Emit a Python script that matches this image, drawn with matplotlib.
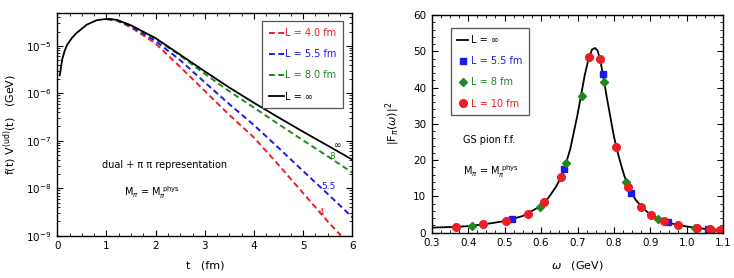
import numpy as np
import matplotlib
matplotlib.use("Agg")
import matplotlib.pyplot as plt
from matplotlib.ticker import MultipleLocator, LogLocator, NullFormatter

plt.rcParams['font.family'] = ['DejaVu Sans']
plt.rcParams['mathtext.fontset'] = 'dejavusans'

# ---------------- left panel data ----------------
t_inf = [0.05, 0.1, 0.15, 0.2, 0.3, 0.4, 0.6, 0.8, 1.0, 1.2, 1.5, 2.0, 2.5, 3.0, 3.5, 4.0, 4.5, 5.0, 5.5, 6.0]
v_inf = [2.4e-6, 5.2e-6, 7.9e-6, 1.05e-5, 1.48e-5, 1.9e-5, 2.8e-5, 3.47e-5, 3.7e-5, 3.55e-5, 2.7e-5,
         1.45e-5, 6.5e-6, 2.9e-6, 1.32e-6, 6.3e-7, 3.1e-7, 1.55e-7, 7.9e-8, 4.0e-8]

t_L8 = [1.0, 1.2, 1.5, 2.0, 2.5, 3.0, 3.5, 4.0, 4.5, 5.0, 5.5, 6.0]
v_L8 = [3.7e-5, 3.55e-5, 2.7e-5, 1.41e-5, 6.2e-6, 2.57e-6, 1.1e-6, 5.0e-7, 2.24e-7, 1.02e-7, 4.7e-8, 2.14e-8]

t_L55 = [1.0, 1.2, 1.5, 2.0, 2.5, 3.0, 3.5, 4.0, 4.5, 5.0, 5.5, 6.0]
v_L55 = [3.7e-5, 3.5e-5, 2.57e-5, 1.26e-5, 5.0e-6, 1.7e-6, 5.9e-7, 2.14e-7, 7.1e-8, 2.3e-8, 7.6e-9, 2.45e-9]

t_L4 = [1.0, 1.2, 1.5, 2.0, 2.5, 3.0, 3.5, 4.0, 4.5, 5.0, 5.5, 5.77]
v_L4 = [3.65e-5, 3.45e-5, 2.45e-5, 1.12e-5, 3.6e-6, 1.12e-6, 3.5e-7, 1.17e-7, 3.1e-8, 7.9e-9, 2.0e-9, 1.0e-9]

left_labels = ["L = 4.0 fm", "L = 5.5 fm", "L = 8.0 fm", "L = \u221e"]
end_labels = ["4", "5.5", "8", "\u221e"]

# ---------------- right panel data ----------------
w_curve = [0.30, 0.35, 0.40, 0.45, 0.50, 0.55, 0.60, 0.62, 0.64, 0.66, 0.68, 0.70, 0.72, 0.73, 0.74,
           0.748, 0.755, 0.762, 0.77, 0.78, 0.79, 0.80, 0.81, 0.82, 0.83, 0.84, 0.86, 0.88, 0.90,
           0.93, 0.96, 1.00, 1.05, 1.10]
F_curve = [1.4, 1.55, 1.8, 2.4, 3.2, 4.6, 7.4, 9.6, 12.5, 16.3, 23.0, 32.5, 43.5, 47.8, 50.5,
           50.9, 50.2, 47.8, 43.5, 37.5, 32.0, 26.5, 22.2, 18.5, 15.2, 12.6, 9.0, 6.7, 5.0,
           3.5, 2.5, 1.7, 1.05, 0.7]

w_L55 = [0.519, 0.664, 0.769, 0.847, 0.947, 1.059]
F_L55 = [3.7, 17.5, 43.7, 11.0, 2.9, 0.9]

w_L8 = [0.410, 0.597, 0.669, 0.711, 0.774, 0.833, 0.920, 1.022, 1.068]
F_L8 = [1.85, 7.2, 19.1, 37.8, 41.5, 14.1, 3.8, 1.4, 0.8]

w_L10 = [0.366, 0.441, 0.505, 0.563, 0.609, 0.656, 0.732, 0.762, 0.806, 0.839, 0.873, 0.901,
         0.938, 0.975, 1.027, 1.064, 1.091]
F_L10 = [1.65, 2.3, 3.3, 5.15, 8.4, 15.4, 48.5, 47.8, 23.7, 12.7, 7.2, 4.9, 3.2, 2.1, 1.25, 0.95, 0.8]

right_labels = ["L = \u221e", "L = 5.5 fm", "L = 8 fm", "L = 10 fm"]

RED = '#ee1c24'
BLUE = '#1a1aee'
GREEN = '#1f8a1f'
FS = 7.5
LFS = 7

fig = plt.figure(figsize=(7.34, 2.78), dpi=100)
W, H = 734, 278
axL = fig.add_axes([57.3 / W, 1 - 235.7 / H, (352.3 - 57.3) / W, (235.7 - 12.7) / H])
axR = fig.add_axes([431.7 / W, 1 - 232.7 / H, (723.3 - 431.7) / W, (232.7 - 15) / H])

dash = (3, 1.8)
axL.plot(t_L4, v_L4, color=RED, lw=1.4, dashes=dash, label=left_labels[0])
axL.plot(t_L55, v_L55, color=BLUE, lw=1.4, dashes=dash, label=left_labels[1])
axL.plot(t_L8, v_L8, color=GREEN, lw=1.4, dashes=dash, label=left_labels[2])
axL.plot(t_inf, v_inf, color='black', lw=1.3, label=left_labels[3])
axL.set_yscale('log')
axL.set_xlim(0, 6)
axL.set_ylim(1e-9, 5e-5)
axL.xaxis.set_major_locator(MultipleLocator(1))
axL.xaxis.set_minor_locator(MultipleLocator(0.25))
axL.yaxis.set_major_locator(LogLocator(base=10, numticks=20))
axL.yaxis.set_minor_locator(LogLocator(base=10, subs=np.arange(2, 10), numticks=20))
axL.yaxis.set_minor_formatter(NullFormatter())
axL.set_xlabel('t   (fm)', fontsize=FS + 0.5, labelpad=7)
axL.set_ylabel(r'f(t) V$^{\rm (ud)}$(t)   (GeV)', fontsize=FS + 0.5, labelpad=5)

leg = axL.legend(loc='upper right', bbox_to_anchor=(0.968, 0.962), borderaxespad=0,
                 fontsize=LFS, handlelength=1.5, handletextpad=0.1, labelspacing=1.15,
                 fancybox=False, edgecolor='#555555', framealpha=1, borderpad=0.7)
leg.get_frame().set_linewidth(0.9)
for txt, c in zip(leg.get_texts(), [RED, BLUE, GREEN, 'black']):
    txt.set_color(c)

axL.text(0.15, (235.7 - 165) / 223, 'dual + \u03c0 \u03c0 representation', transform=axL.transAxes,
         fontsize=LFS, va='center', ha='left')
axL.text(0.225, (235.7 - 193) / 223, r'M$_{\pi}$ = M$_{\pi}^{\ \rm phys}$', transform=axL.transAxes,
         fontsize=LFS, va='center', ha='left')
for lab, (xp, yp), c in zip(end_labels, [(321, 212.3), (328.3, 186.7), (332.7, 156.7), (337.3, 145.7)],
                            [RED, BLUE, GREEN, 'black']):
    axL.text((xp - 57.3) / 295, (235.7 - yp) / 223, lab, transform=axL.transAxes,
             fontsize=LFS - 0.5, color=c, ha='center', va='center')

# right panel
axR.plot(w_curve, F_curve, color='black', lw=1.3, label=right_labels[0])
axR.plot(w_L55, F_L55, ls='none', marker='s', ms=4.3, color=BLUE, label=right_labels[1])
axR.plot(w_L8, F_L8, ls='none', marker='D', ms=4.3, color=GREEN, label=right_labels[2])
axR.plot(w_L10, F_L10, ls='none', marker='o', ms=5.5, color=RED, label=right_labels[3])
axR.set_xlim(0.3, 1.1)
axR.set_ylim(0, 60)
axR.xaxis.set_major_locator(MultipleLocator(0.1))
axR.xaxis.set_minor_locator(MultipleLocator(0.025))
axR.yaxis.set_major_locator(MultipleLocator(10))
axR.yaxis.set_minor_locator(MultipleLocator(2))
axR.set_xlabel(r'$\omega$   (GeV)', fontsize=FS + 0.5, labelpad=8)
axR.set_ylabel(r'|F$_{\pi}$($\omega$)|$^2$', fontsize=FS + 0.5, labelpad=8)
legR = axR.legend(loc='upper left', bbox_to_anchor=(0.065, 0.939), borderaxespad=0,
                  fontsize=LFS, handlelength=1.1, handletextpad=0.3, labelspacing=1.15,
                  fancybox=False, edgecolor='#555555', framealpha=1, borderpad=0.7)
legR.get_frame().set_linewidth(0.9)
for txt, c in zip(legR.get_texts(), ['black', BLUE, GREEN, RED]):
    txt.set_color(c)
axR.text((463 - 431.7) / 291.6, (232.7 - 140) / 217.7, 'GS pion f.f.', transform=axR.transAxes,
         fontsize=LFS, va='center', ha='left')
axR.text((463 - 431.7) / 291.6, (232.7 - 172) / 217.7, r'M$_{\pi}$ = M$_{\pi}^{\ \rm phys}$',
         transform=axR.transAxes, fontsize=LFS, va='center', ha='left')

for ax in (axL, axR):
    ax.tick_params(which='both', direction='in', top=True, right=True, labelsize=FS)
    ax.tick_params(which='major', length=4, width=0.8, pad=4)
    ax.tick_params(which='minor', length=2, width=0.6)
    for s in ax.spines.values():
        s.set_linewidth(1.0)

fig.savefig('out.png', dpi=100)
